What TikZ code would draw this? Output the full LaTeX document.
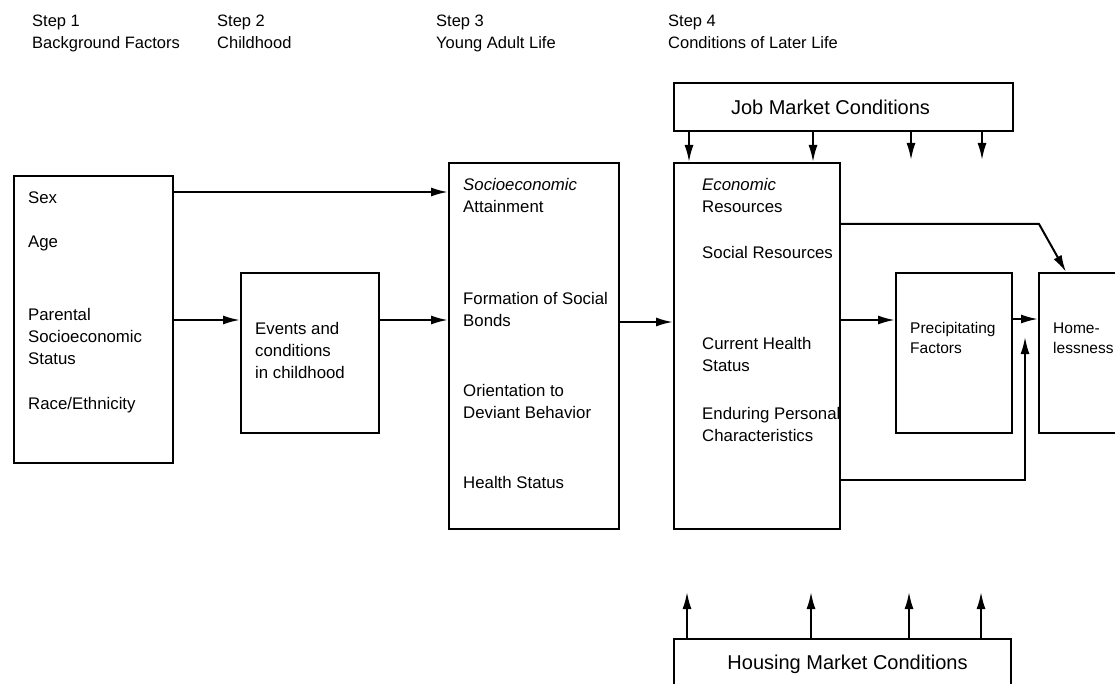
\documentclass[tikz,border=0pt]{standalone}
\usepackage{fontspec}
\setmainfont{Liberation Sans}
\usetikzlibrary{positioning,arrows.meta,calc}

\tikzset{
  box/.style={draw, line width=2pt, inner sep=0pt, anchor=north west},
  lbl/.style={anchor=west, align=left, inner sep=0pt, font=\fontsize{16.8}{22}\selectfont},
  small/.style={lbl, font=\fontsize{15.5}{20}\selectfont},
  hdr/.style={anchor=north west, align=left, inner sep=0pt, font=\fontsize{16.5}{22}\selectfont},
  mkt/.style={font=\fontsize{20}{24}\selectfont},
  arr/.style={line width=2pt, -{Latex[length=17pt,width=9pt]}},
}

\begin{document}
\begin{tikzpicture}[x=1pt,y=-1pt]
\clip (0,0) rectangle (1115,684);

\node[hdr] (s1) at (32,15) {Step 1\\Background Factors};
\node[hdr] (s2) at (217,15) {Step 2\\Childhood};
\node[hdr] (s3) at (436,15) {Step 3\\Young Adult Life};
\node[hdr] (s4) at (668,15) {Step 4\\Conditions of Later Life};

\node[box, minimum width=159pt, minimum height=287pt] (bg) at (13,175) {};
\node[box, minimum width=138pt, minimum height=160pt] (child) at (240,272) {};
\node[box, minimum width=170pt, minimum height=366pt] (young) at (448,162) {};
\node[box, minimum width=166pt, minimum height=366pt] (later) at (673,162) {};
\node[box, minimum width=116pt, minimum height=160pt] (precip) at (895,272) {};
\node[box, minimum width=100pt, minimum height=160pt] (home) at (1038,272) {};
\node[box, minimum width=339pt, minimum height=48pt] (job) at (673,82) {};
\node[mkt] (jobtxt) at ($(job.center)+(-13,0)$) {Job Market Conditions};
\node[box, mkt, minimum width=337pt, minimum height=50pt] (house) at (673,638) {\hspace*{10pt}Housing Market Conditions};

\node[lbl] (sex) at (28,198) {Sex};
\node[lbl] (age) at (28,243) {Age};
\node[lbl] (ses) at (28,336) {Parental\\Socioeconomic\\Status};
\node[lbl] (race) at (28,405) {Race/Ethnicity};

\node[lbl] (events) at (255,350) {Events and\\conditions\\in childhood};

\node[lbl] (attain) at (463,195) {\textit{Socioeconomic}\\Attainment};
\node[lbl] (bonds) at (463,309) {Formation of Social\\Bonds};
\node[lbl] (deviant) at (463,401) {Orientation to\\Deviant Behavior};
\node[lbl] (health) at (463,482) {Health Status};

\node[lbl] (econ) at (702,195) {\textit{Economic}\\Resources};
\node[lbl] (social) at (702,252) {Social Resources};
\node[lbl] (curhealth) at (702,354) {Current Health\\Status};
\node[lbl] (personal) at (702,424) {Enduring Personal\\Characteristics};

\node[small] (pf) at (910,338) {Precipitating\\Factors};
\node[small] (hl) at (1053,338) {Home-\\lessness};

\draw[arr] (bg.east |- 0,192) -- (young.west |- 0,192);
\draw[arr] (bg.east |- 0,320) -- (child.west |- 0,320);
\draw[arr] (child.east |- 0,320) -- (young.west |- 0,320);
\draw[arr] (young.east |- 0,322) -- (later.west |- 0,322);
\draw[arr] (later.east |- 0,224) -- (1039,224) -- ($(home.north west)+(28,0)$);
\draw[arr] (later.east |- 0,320) -- (precip.west |- 0,320);
\draw[arr] (precip.east |- 0,319) -- (home.west |- 0,319);
\coordinate (join) at (1025,337);
\draw[arr] (later.east |- 0,480) -- (join |- 0,480) -- (join);

\foreach \x in {689,813}
  \draw[arr] (job.south -| \x,0) -- (later.north -| \x,0);
\foreach \x in {911,982}
  \draw[arr] (job.south -| \x,0) -- (\x,160);
\foreach \x in {687,811,909,981}
  \draw[arr] (house.north -| \x,0) -- (\x,592);
\end{tikzpicture}
\end{document}
